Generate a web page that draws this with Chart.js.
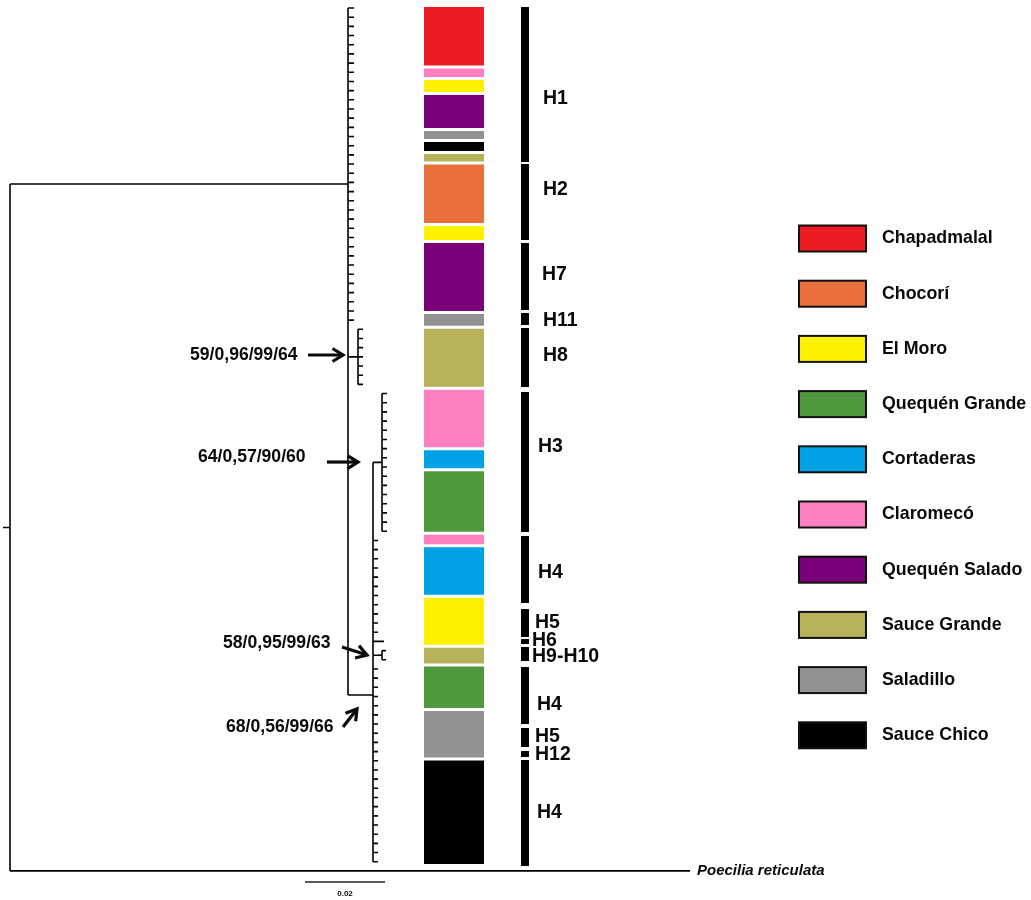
<!DOCTYPE html>
<html>
<head>
<meta charset="utf-8">
<script src="https://cdn.jsdelivr.net/npm/chart.js@4.4.1/dist/chart.umd.min.js"></script>
<style>
html,body{margin:0;padding:0;background:#fff;}
canvas{display:block;}
</style>
</head>
<body>
<canvas id="c" width="1031" height="900"></canvas>
<script>
// ================= DATA =================
// Populations (legend order) and their colours
const populations = ['Chapadmalal','Chocorí','El Moro','Quequén Grande','Cortaderas','Claromecó','Quequén Salado','Sauce Grande','Saladillo','Sauce Chico'];
const popColors   = ['#ED1C24','#E9703A','#FFF200','#50983E','#00A2E6','#FF80C0','#7A007A','#B5B25A','#929292','#000000'];

// Coloured sample column, top to bottom: population index and height (tip units)
const sampleSegPop  = [0,5,2,6,8,9,7,1,2,6,8,7,5,4,3,5,4,2,7,3,8,9];
const sampleSegSize = [6.70,1.25,1.63,3.92,1.20,1.31,1.14,6.70,1.85,7.73,1.63,6.64,6.59,2.29,6.92,1.36,5.50,5.45,2.02,4.85,5.39,11.60];

// Haplotype bars (tip units)
const hapNames = ['H1','H2','H7','H11','H8','H3','H4','H5','H6','H9-H10','H4','H5','H12','H4'];
const hapStart = [-0.11,16.99,25.60,33.22,34.86,41.83,57.52,65.47,68.74,69.61,71.79,78.43,80.94,81.92];
const hapEnd   = [16.78,25.27,32.90,34.53,41.29,57.08,64.81,68.52,69.28,71.13,78.00,80.50,81.59,93.46];

// Tree clades: node depth (substitutions/site), parent clade (-1 = root), stem position, vertical span (tip units)
const cladeNames     = ['ingroup','H8 clade','H3-H4 clade','H3 clade','H9-H10 pair'];
const cladeDepth     = [0.0845,0.0870,0.09075,0.0930,0.0930];
const cladeParent    = [-1,0,0,2,2];
const cladeStemAt    = [19.17,38.0,74.84,49.5,70.5];
const cladeSpanStart = [0,35,49.5,42,70];
const cladeSpanEnd   = [74.84,41,93,57,71];

// Tip groups: owning clade (-1 = root), first/last tip index, tip depth
const tipGroupClade = [0,1,3,2,2,4,2,-1];
const tipGroupFirst = [0,35,42,58,69,70,72,94];
const tipGroupLast  = [34,41,57,68,69,71,93,94];
const tipGroupDepth = [0.0860,0.08825,0.09425,0.0920,0.0935,0.0940,0.0920,0.170];
const outgroupName = 'Poecilia reticulata';

// Node supports
const supportA = [59,64,58,68];
const supportB = ['0,96','0,57','0,95','0,56'];
const supportC = [99,90,99,99];
const supportD = [64,60,63,66];

const scaleBarValue = 0.02;

// ================= LAYOUT =================
const L = {
  xMin:-0.0025, xMax:0.25525,        // distance axis
  yMin:-0.87146, yMax:97.1677,       // tip axis (reversed)
  columnX:0.111, columnTop:-0.272, columnWidth:60, columnGap:1.5,
  hapX:0.12875, hapWidth:8,
  hapLabelOffset:[14,14,13,14,14,9,9,6,3,3,8,6,6,8],
  hapLabelY:[9.91,19.83,29.08,34.10,37.91,47.82,61.55,66.99,68.95,70.70,75.93,79.41,81.37,87.69],
  rootStub:-0.00175,
  scaleBarX:0.07375, scaleBarY:95.21, scaleLabelY:96.51,
  supLabelX:[0.045,0.047,0.05325,0.054],
  supLabelY:[37.8,48.91,69.17,78.32],
  arrowFrom:[[0.0745,37.8],[0.07925,49.46],[0.0830,69.61],[0.08325,78.32]],
  arrowTo:[[0.08325,37.8],[0.0870,49.46],[0.08925,70.48],[0.08675,76.36]],
  legendBoxX:799, legendBoxW:67, legendBoxH:26, legendY0:238.5, legendStep:55.2, legendTextX:882
};

const FONT = '"Liberation Sans", Arial, Helvetica, sans-serif';

// ================= BUILD DATASETS =================
const treePts = [];
function seg(x1,y1,x2,y2){ treePts.push({x:x1,y:y1},{x:x2,y:y2},{x:x2,y:null}); }

// root
const rootTop = Math.min(cladeStemAt[0], tipGroupFirst[7]);
const rootBot = Math.max(cladeStemAt[0], tipGroupFirst[7]);
seg(0, rootTop, 0, rootBot);
seg(L.rootStub, (rootTop+rootBot)/2, 0, (rootTop+rootBot)/2);
// clades
cladeDepth.forEach((d,c)=>{
  const pd = cladeParent[c] < 0 ? 0 : cladeDepth[cladeParent[c]];
  seg(pd, cladeStemAt[c], d, cladeStemAt[c]);
  seg(d, cladeSpanStart[c], d, cladeSpanEnd[c]);
});
// tips
tipGroupClade.forEach((c,g)=>{
  const pd = c < 0 ? 0 : cladeDepth[c];
  for(let t=tipGroupFirst[g]; t<=tipGroupLast[g]; t++) seg(pd, t, tipGroupDepth[g], t);
});

let acc = L.columnTop;
const columnData = sampleSegSize.map(s=>{ const o={x:L.columnX, y:[acc, acc+s]}; acc+=s; return o; });
const columnColors = sampleSegPop.map(i=>popColors[i]);
const hapData = hapStart.map((s,i)=>({x:L.hapX, y:[s, hapEnd[i]]}));
const scaleBarPts = [{x:L.scaleBarX,y:L.scaleBarY},{x:L.scaleBarX+scaleBarValue,y:L.scaleBarY}];

// ================= ANNOTATIONS =================
function drawArrow(ctx,x1,y1,x2,y2){
  const a=Math.atan2(y2-y1,x2-x1), c=Math.cos(a), s=Math.sin(a);
  const hl=10.5, hw=6.5;
  ctx.beginPath(); ctx.moveTo(x1,y1); ctx.lineTo(x2-1.5*c,y2-1.5*s); ctx.stroke();
  ctx.beginPath();
  ctx.moveTo(x2-hl*c+hw*s, y2-hl*s-hw*c);
  ctx.lineTo(x2,y2);
  ctx.lineTo(x2-hl*c-hw*s, y2-hl*s+hw*c);
  ctx.stroke();
}

const annot = {
  id:'annot',
  beforeDraw(ch){ const ctx=ch.ctx; ctx.save(); ctx.fillStyle='#fff'; ctx.fillRect(0,0,ch.width,ch.height); ctx.restore(); },
  afterDatasetsDraw(ch){
    const ctx=ch.ctx, xs=ch.scales.x, ys=ch.scales.y;
    const X=v=>xs.getPixelForValue(v), Y=v=>ys.getPixelForValue(v);
    ctx.save();
    ctx.fillStyle='#0a0a0a'; ctx.textBaseline='middle'; ctx.textAlign='left';
    // haplotype labels
    ctx.font='bold 19.5px '+FONT;
    const hapRight = X(L.hapX)+L.hapWidth/2;
    hapNames.forEach((n,i)=>ctx.fillText(n, hapRight+L.hapLabelOffset[i], Y(L.hapLabelY[i])));
    // support labels + arrows
    ctx.font='bold 17.6px '+FONT;
    supportA.forEach((v,i)=>{
      const txt = v+'/'+supportB[i]+'/'+supportC[i]+'/'+supportD[i];
      ctx.fillText(txt, X(L.supLabelX[i]), Y(L.supLabelY[i]));
    });
    ctx.strokeStyle='#0a0a0a'; ctx.lineWidth=3.2; ctx.lineCap='butt'; ctx.lineJoin='miter';
    L.arrowFrom.forEach((f,i)=>{
      const t=L.arrowTo[i];
      drawArrow(ctx, X(f[0]), Y(f[1]), X(t[0]), Y(t[1]));
    });
    // outgroup name
    ctx.font='italic bold 15px '+FONT;
    ctx.fillText(outgroupName, X(tipGroupDepth[7])+7, Y(tipGroupFirst[7]));
    // scale label
    ctx.font='bold 8px '+FONT; ctx.textAlign='center';
    ctx.fillText(String(scaleBarValue), X(L.scaleBarX+scaleBarValue/2), Y(L.scaleLabelY));
    // legend
    ctx.textAlign='left'; ctx.font='bold 17.8px '+FONT;
    populations.forEach((p,i)=>{
      const cy=L.legendY0+L.legendStep*i;
      ctx.fillStyle=popColors[i];
      ctx.fillRect(L.legendBoxX, cy-L.legendBoxH/2, L.legendBoxW, L.legendBoxH);
      ctx.lineWidth=2; ctx.strokeStyle='#111';
      ctx.strokeRect(L.legendBoxX, cy-L.legendBoxH/2, L.legendBoxW, L.legendBoxH);
      ctx.fillStyle='#0a0a0a';
      ctx.fillText(p, L.legendTextX, cy);
    });
    ctx.restore();
  }
};

// ================= CHART =================
new Chart(document.getElementById('c'), {
  type:'line',
  data:{ datasets:[
    { type:'bar', label:'samples', data:columnData, backgroundColor:columnColors, borderColor:'#ffffff',
      borderWidth:{top:L.columnGap,bottom:L.columnGap,left:0,right:0}, borderSkipped:false,
      barThickness:L.columnWidth, stack:'cols', inflateAmount:0 },
    { type:'bar', label:'haplotypes', data:hapData, backgroundColor:'#000000', borderWidth:0,
      barThickness:L.hapWidth, stack:'cols', inflateAmount:0 },
    { type:'line', label:'tree', data:treePts, borderColor:'#000000', borderWidth:1.6,
      pointRadius:0, pointHoverRadius:0, spanGaps:false, tension:0, fill:false },
    { type:'line', label:'scale', data:scaleBarPts, borderColor:'#222', borderWidth:1.5,
      pointRadius:0, pointHoverRadius:0, tension:0, fill:false }
  ]},
  options:{
    responsive:false, animation:false, devicePixelRatio:1, events:[],
    layout:{padding:0},
    plugins:{legend:{display:false}, tooltip:{enabled:false}},
    scales:{
      x:{type:'linear', min:L.xMin, max:L.xMax, display:false, offset:false, grid:{offset:false}},
      y:{type:'linear', min:L.yMin, max:L.yMax, reverse:true, display:false, stacked:false, beginAtZero:false}
    }
  },
  plugins:[annot]
});
</script>
</body>
</html>
